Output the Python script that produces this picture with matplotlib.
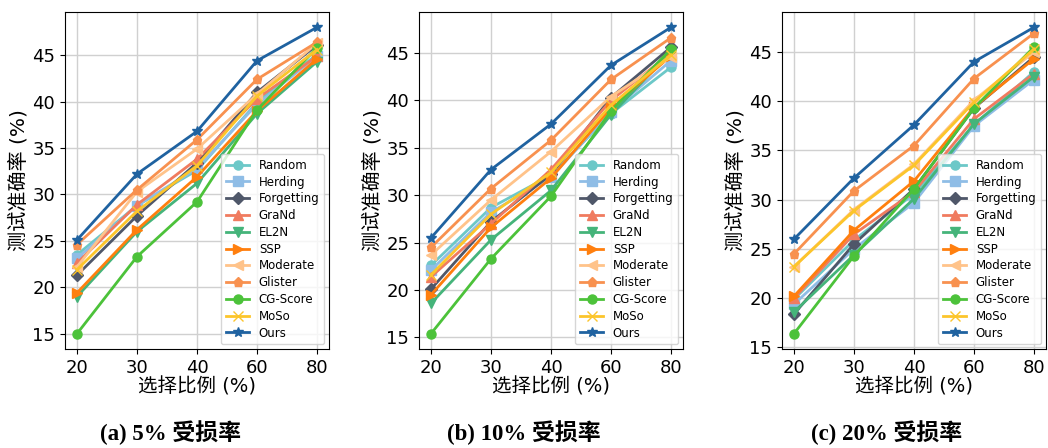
import matplotlib
matplotlib.use("Agg")
import matplotlib.pyplot as plt

plt.rcParams['font.family'] = ['DejaVu Sans', 'Noto Sans CJK SC']

ratios = ["20", "30", "40", "60", "80"]
methods = ["Random", "Herding", "Forgetting", "GraNd", "EL2N", "SSP",
           "Moderate", "Glister", "CG-Score", "MoSo", "Ours"]

acc_5 = {
    "Random":     [23.5, 28.8, 32.6, 39.9, 45.1],
    "Herding":    [23.1, 28.8, 32.8, 39.7, 44.9],
    "Forgetting": [21.3, 27.7, 33.4, 41.0, 46.1],
    "GraNd":      [22.6, 28.9, 33.8, 40.3, 44.9],
    "EL2N":       [19.0, 26.0, 31.2, 38.7, 44.3],
    "SSP":        [19.4, 26.2, 31.9, 39.0, 44.6],
    "Moderate":   [22.2, 30.3, 34.9, 40.8, 46.3],
    "Glister":    [24.6, 30.5, 35.9, 42.4, 46.4],
    "CG-Score":   [15.0, 23.3, 29.2, 39.1, 45.8],
    "MoSo":       [21.9, 28.2, 33.1, 40.6, 45.6],
    "Ours":       [25.1, 32.2, 36.8, 44.4, 48.0],
}
acc_10 = {
    "Random":     [22.6, 28.7, 32.1, 38.6, 43.5],
    "Herding":    [22.1, 28.2, 31.9, 38.8, 44.2],
    "Forgetting": [20.1, 27.2, 32.2, 40.3, 45.6],
    "GraNd":      [21.4, 27.0, 32.7, 40.0, 45.0],
    "EL2N":       [18.6, 25.3, 30.5, 38.5, 45.1],
    "SSP":        [19.5, 26.6, 31.8, 39.2, 44.7],
    "Moderate":   [23.7, 29.5, 34.6, 40.4, 44.6],
    "Glister":    [24.5, 30.7, 35.8, 42.2, 46.6],
    "CG-Score":   [15.4, 23.3, 29.9, 38.9, 45.4],
    "MoSo":       [21.6, 28.0, 32.4, 39.5, 44.8],
    "Ours":       [25.5, 32.7, 37.5, 43.7, 47.7],
}
acc_20 = {
    "Random":     [19.9, 25.9, 30.6, 37.6, 43.0],
    "Herding":    [19.4, 25.0, 29.7, 37.5, 42.2],
    "Forgetting": [18.4, 25.5, 31.1, 39.3, 44.5],
    "GraNd":      [20.0, 26.5, 30.8, 38.2, 42.8],
    "EL2N":       [18.6, 24.4, 30.1, 37.7, 42.5],
    "SSP":        [20.2, 26.9, 31.9, 39.4, 44.3],
    "Moderate":   [23.2, 29.0, 33.6, 40.1, 45.0],
    "Glister":    [24.5, 30.9, 35.5, 42.3, 46.9],
    "CG-Score":   [16.4, 24.3, 31.1, 39.3, 45.5],
    "MoSo":       [23.2, 28.9, 33.5, 39.9, 45.3],
    "Ours":       [26.0, 32.2, 37.6, 44.0, 47.5],
}

colors = {
    "Random": "#6cc8c8", "Herding": "#8fbde6", "Forgetting": "#4f5769",
    "GraNd": "#f07b5f", "EL2N": "#45b47a", "SSP": "#ff7f0e",
    "Moderate": "#ffc38a", "Glister": "#f8914f", "CG-Score": "#4cc23a",
    "MoSo": "#fcc52b", "Ours": "#1f62a0",
}
markers = {
    "Random": "o", "Herding": "s", "Forgetting": "D", "GraNd": "^",
    "EL2N": "v", "SSP": ">", "Moderate": "<", "Glister": "p",
    "CG-Score": "o", "MoSo": "x", "Ours": "*",
}

panels = [acc_5, acc_10, acc_20]
captions = ["(a) 5% 受损率", "(b) 10% 受损率", "(c) 20% 受损率"]
lefts = [65, 419, 782]

fig = plt.figure(figsize=(10.48, 4.48), dpi=100)
W, H = 1048, 448
for data, cap, lx in zip(panels, captions, lefts):
    ax = fig.add_axes([lx / W, (448 - 349) / H, 264 / W, 337 / H])
    for m in methods:
        ax.plot(ratios, data[m], color=colors[m], marker=markers[m],
                linewidth=2, markersize=6.5 if m != "Ours" else 7, label=m)
    ax.grid(True, color="#d0d0d0", linewidth=1)
    ax.set_axisbelow(True)
    ax.tick_params(labelsize=13)
    ax.set_xlabel("选择比例 (%)", fontsize=14, labelpad=0)
    ax.set_ylabel("测试准确率 (%)", fontsize=14.5, labelpad=3)
    ax.set_yticks([15, 20, 25, 30, 35, 40, 45])
    ax.legend(loc="lower right", prop={"family": "DejaVu Sans", "size": 8.5},
              labelspacing=0.32, borderaxespad=0.4, handlelength=2.0)
    fig.text((lx + 132 - 27) / W, 1 - 433 / H, cap, ha="center", va="center",
             fontsize=16.5, fontweight="bold",
             family=["Liberation Serif", "Noto Sans CJK SC"])

fig.savefig("out.png", dpi=100)
